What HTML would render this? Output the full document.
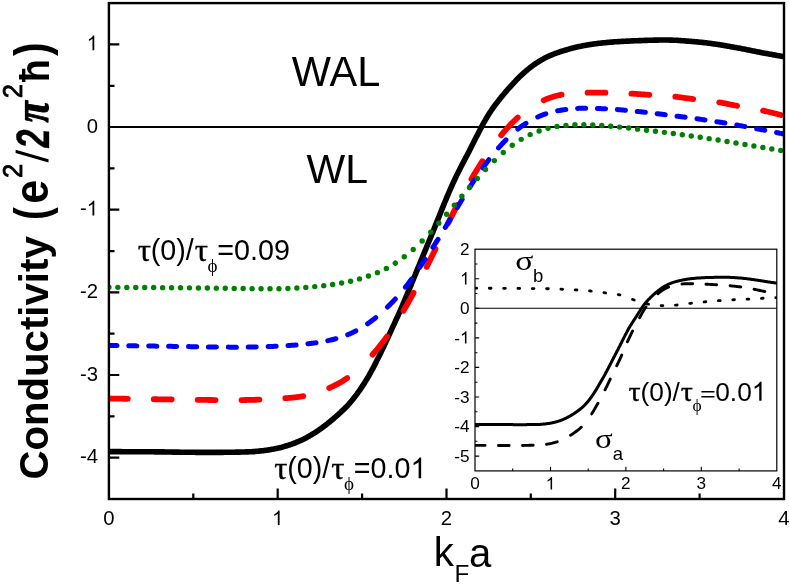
<!DOCTYPE html>
<html><head><meta charset="utf-8"><title>chart</title><style>html,body{margin:0;padding:0;background:#fff}body{width:789px;height:584px;overflow:hidden}</style></head><body>
<svg width="789" height="584" viewBox="0 0 789 584" style="display:block;will-change:transform">
<rect width="789" height="584" fill="#fff"/>
<defs><clipPath id="cm"><rect x="108.9" y="3.1" width="675.1" height="495.9"/></clipPath><clipPath id="ci"><rect x="475.0" y="249.2" width="301.8" height="221.7"/></clipPath></defs>
<line x1="108.9" y1="127.1" x2="784.0" y2="127.1" stroke="#000" stroke-width="2"/>
<g fill="none" clip-path="url(#cm)" stroke-linejoin="round">
<path d="M108.9,451.6 L109.9,451.6 L110.9,451.6 L111.9,451.6 L112.9,451.6 L113.9,451.6 L114.9,451.6 L115.9,451.6 L116.9,451.6 L117.9,451.6 L118.9,451.6 L119.9,451.6 L120.9,451.6 L121.9,451.7 L122.9,451.7 L123.9,451.7 L124.9,451.7 L125.9,451.7 L126.9,451.7 L127.9,451.7 L128.9,451.7 L129.9,451.7 L130.9,451.7 L131.9,451.7 L132.9,451.7 L133.9,451.7 L134.9,451.7 L135.9,451.7 L136.9,451.7 L137.9,451.7 L138.9,451.7 L139.9,451.7 L140.9,451.8 L141.9,451.8 L142.9,451.8 L143.9,451.8 L144.9,451.8 L145.9,451.8 L146.9,451.8 L147.9,451.8 L148.9,451.8 L149.9,451.8 L150.9,451.8 L151.9,451.8 L152.9,451.8 L153.9,451.8 L154.9,451.9 L155.9,451.9 L156.9,451.9 L157.9,451.9 L158.9,451.9 L159.9,451.9 L160.9,451.9 L161.9,451.9 L162.9,451.9 L163.9,451.9 L164.9,452.0 L165.9,452.0 L166.9,452.0 L167.9,452.0 L168.9,452.0 L169.9,452.0 L170.9,452.0 L171.9,452.0 L172.9,452.1 L173.9,452.1 L174.9,452.1 L175.9,452.1 L176.9,452.1 L177.9,452.1 L178.9,452.1 L179.9,452.2 L180.9,452.2 L181.9,452.2 L182.9,452.2 L183.9,452.2 L184.9,452.2 L185.9,452.2 L186.9,452.3 L187.9,452.3 L188.9,452.3 L189.9,452.3 L190.9,452.3 L191.9,452.3 L192.9,452.3 L193.9,452.3 L194.9,452.3 L195.9,452.4 L196.9,452.4 L197.9,452.4 L198.9,452.4 L199.9,452.4 L200.9,452.4 L201.9,452.4 L202.9,452.4 L203.9,452.4 L204.9,452.4 L205.9,452.4 L206.9,452.4 L207.9,452.4 L208.9,452.4 L209.9,452.4 L210.9,452.4 L211.9,452.4 L212.9,452.4 L213.9,452.4 L214.9,452.4 L215.9,452.4 L216.9,452.4 L217.9,452.4 L218.9,452.4 L219.9,452.4 L220.9,452.4 L221.9,452.4 L222.9,452.4 L223.9,452.3 L224.9,452.3 L225.9,452.3 L226.9,452.3 L227.9,452.3 L228.9,452.3 L229.9,452.3 L230.9,452.2 L231.9,452.2 L232.9,452.2 L233.9,452.2 L234.9,452.2 L235.9,452.1 L236.9,452.1 L237.9,452.1 L238.9,452.1 L239.9,452.1 L240.9,452.0 L241.9,452.0 L242.9,452.0 L243.9,452.0 L244.9,452.0 L245.9,451.9 L246.9,451.9 L247.9,451.9 L248.9,451.8 L249.9,451.8 L250.9,451.7 L251.9,451.7 L252.9,451.6 L253.9,451.6 L254.9,451.5 L255.9,451.4 L256.9,451.3 L257.9,451.2 L258.9,451.1 L259.9,451.0 L260.9,450.9 L261.9,450.8 L262.9,450.7 L263.9,450.6 L264.9,450.4 L265.9,450.3 L266.9,450.2 L267.9,450.0 L268.9,449.9 L269.9,449.7 L270.9,449.5 L271.9,449.3 L272.9,449.2 L273.9,449.0 L274.9,448.8 L275.9,448.6 L276.9,448.4 L277.9,448.1 L278.9,447.9 L279.9,447.7 L280.9,447.4 L281.9,447.2 L282.9,446.9 L283.9,446.6 L284.9,446.3 L285.9,446.1 L286.9,445.7 L287.9,445.4 L288.9,445.1 L289.9,444.8 L290.9,444.4 L291.9,444.1 L292.9,443.7 L293.9,443.3 L294.9,443.0 L295.9,442.6 L296.9,442.1 L297.9,441.7 L298.9,441.3 L299.9,440.8 L300.9,440.4 L301.9,439.9 L302.9,439.4 L303.9,438.9 L304.9,438.4 L305.9,437.9 L306.9,437.4 L307.9,436.8 L308.9,436.3 L309.9,435.7 L310.9,435.1 L311.9,434.5 L312.9,433.9 L313.9,433.3 L314.9,432.7 L315.9,432.0 L316.9,431.4 L317.9,430.7 L318.9,430.0 L319.9,429.3 L320.9,428.6 L321.9,427.9 L322.9,427.1 L323.9,426.4 L324.9,425.6 L325.9,424.9 L326.9,424.1 L327.9,423.3 L328.9,422.5 L329.9,421.7 L330.9,420.8 L331.9,420.0 L332.9,419.2 L333.9,418.3 L334.9,417.4 L335.9,416.6 L336.9,415.7 L337.9,414.8 L338.9,413.9 L339.9,413.0 L340.9,412.1 L341.9,411.1 L342.9,410.2 L343.9,409.2 L344.9,408.3 L345.9,407.2 L346.9,406.2 L347.9,405.2 L348.9,404.1 L349.9,402.9 L350.9,401.7 L351.9,400.5 L352.9,399.3 L353.9,398.0 L354.9,396.7 L355.9,395.4 L356.9,394.1 L357.9,392.7 L358.9,391.3 L359.9,389.9 L360.9,388.4 L361.9,386.9 L362.9,385.4 L363.9,383.9 L364.9,382.3 L365.9,380.6 L366.9,379.0 L367.9,377.3 L368.9,375.6 L369.9,373.8 L370.9,372.0 L371.9,370.2 L372.9,368.4 L373.9,366.5 L374.9,364.6 L375.9,362.6 L376.9,360.6 L377.9,358.6 L378.9,356.6 L379.9,354.6 L380.9,352.5 L381.9,350.4 L382.9,348.3 L383.9,346.2 L384.9,344.1 L385.9,341.9 L386.9,339.8 L387.9,337.6 L388.9,335.4 L389.9,333.2 L390.9,331.0 L391.9,328.9 L392.9,326.7 L393.9,324.6 L394.9,322.4 L395.9,320.2 L396.9,318.0 L397.9,315.8 L398.9,313.6 L399.9,311.4 L400.9,309.1 L401.9,306.8 L402.9,304.4 L403.9,302.1 L404.9,299.7 L405.9,297.3 L406.9,295.0 L407.9,292.5 L408.9,290.1 L409.9,287.7 L410.9,285.3 L411.9,282.8 L412.9,280.4 L413.9,277.9 L414.9,275.5 L415.9,273.1 L416.9,270.6 L417.9,268.2 L418.9,265.8 L419.9,263.3 L420.9,260.9 L421.9,258.5 L422.9,256.0 L423.9,253.6 L424.9,251.2 L425.9,248.8 L426.9,246.3 L427.9,243.9 L428.9,241.5 L429.9,239.1 L430.9,236.7 L431.9,234.2 L432.9,231.8 L433.9,229.4 L434.9,226.9 L435.9,224.4 L436.9,221.9 L437.9,219.4 L438.9,216.9 L439.9,214.4 L440.9,211.9 L441.9,209.4 L442.9,206.9 L443.9,204.4 L444.9,202.0 L445.9,199.6 L446.9,197.2 L447.9,194.8 L448.9,192.5 L449.9,190.2 L450.9,187.9 L451.9,185.6 L452.9,183.4 L453.9,181.3 L454.9,179.1 L455.9,177.0 L456.9,174.9 L457.9,172.9 L458.9,170.9 L459.9,168.9 L460.9,167.0 L461.9,165.0 L462.9,163.1 L463.9,161.2 L464.9,159.3 L465.9,157.4 L466.9,155.5 L467.9,153.6 L468.9,151.7 L469.9,149.7 L470.9,147.8 L471.9,145.8 L472.9,143.8 L473.9,141.8 L474.9,139.8 L475.9,137.8 L476.9,135.9 L477.9,133.9 L478.9,131.9 L479.9,130.0 L480.9,128.1 L481.9,126.2 L482.9,124.3 L483.9,122.5 L484.9,120.8 L485.9,119.0 L486.9,117.3 L487.9,115.7 L488.9,114.1 L489.9,112.5 L490.9,111.0 L491.9,109.5 L492.9,108.1 L493.9,106.7 L494.9,105.3 L495.9,104.0 L496.9,102.7 L497.9,101.4 L498.9,100.1 L499.9,98.9 L500.9,97.6 L501.9,96.4 L502.9,95.2 L503.9,94.0 L504.9,92.8 L505.9,91.6 L506.9,90.5 L507.9,89.3 L508.9,88.2 L509.9,87.1 L510.9,86.0 L511.9,84.9 L512.9,83.8 L513.9,82.7 L514.9,81.7 L515.9,80.6 L516.9,79.6 L517.9,78.6 L518.9,77.6 L519.9,76.6 L520.9,75.6 L521.9,74.7 L522.9,73.7 L523.9,72.8 L524.9,71.9 L525.9,71.1 L526.9,70.2 L527.9,69.4 L528.9,68.6 L529.9,67.8 L530.9,67.0 L531.9,66.2 L532.9,65.5 L533.9,64.8 L534.9,64.1 L535.9,63.4 L536.9,62.8 L537.9,62.1 L538.9,61.5 L539.9,60.9 L540.9,60.3 L541.9,59.7 L542.9,59.2 L543.9,58.6 L544.9,58.1 L545.9,57.6 L546.9,57.1 L547.9,56.6 L548.9,56.1 L549.9,55.7 L550.9,55.2 L551.9,54.8 L552.9,54.4 L553.9,54.0 L554.9,53.6 L555.9,53.2 L556.9,52.9 L557.9,52.5 L558.9,52.2 L559.9,51.8 L560.9,51.5 L561.9,51.2 L562.9,50.9 L563.9,50.6 L564.9,50.3 L565.9,50.0 L566.9,49.7 L567.9,49.4 L568.9,49.1 L569.9,48.8 L570.9,48.6 L571.9,48.3 L572.9,48.0 L573.9,47.8 L574.9,47.5 L575.9,47.3 L576.9,47.1 L577.9,46.8 L578.9,46.6 L579.9,46.4 L580.9,46.2 L581.9,46.0 L582.9,45.8 L583.9,45.6 L584.9,45.4 L585.9,45.2 L586.9,45.0 L587.9,44.9 L588.9,44.7 L589.9,44.5 L590.9,44.4 L591.9,44.2 L592.9,44.1 L593.9,44.0 L594.9,43.8 L595.9,43.7 L596.9,43.6 L597.9,43.4 L598.9,43.3 L599.9,43.2 L600.9,43.1 L601.9,43.0 L602.9,42.9 L603.9,42.8 L604.9,42.7 L605.9,42.6 L606.9,42.5 L607.9,42.4 L608.9,42.3 L609.9,42.2 L610.9,42.1 L611.9,42.1 L612.9,42.0 L613.9,41.9 L614.9,41.8 L615.9,41.8 L616.9,41.7 L617.9,41.6 L618.9,41.6 L619.9,41.5 L620.9,41.5 L621.9,41.4 L622.9,41.4 L623.9,41.3 L624.9,41.3 L625.9,41.2 L626.9,41.1 L627.9,41.1 L628.9,41.1 L629.9,41.0 L630.9,41.0 L631.9,40.9 L632.9,40.9 L633.9,40.8 L634.9,40.8 L635.9,40.7 L636.9,40.7 L637.9,40.7 L638.9,40.6 L639.9,40.6 L640.9,40.6 L641.9,40.5 L642.9,40.5 L643.9,40.5 L644.9,40.4 L645.9,40.4 L646.9,40.4 L647.9,40.3 L648.9,40.3 L649.9,40.3 L650.9,40.2 L651.9,40.2 L652.9,40.2 L653.9,40.1 L654.9,40.1 L655.9,40.1 L656.9,40.1 L657.9,40.1 L658.9,40.0 L659.9,40.0 L660.9,40.0 L661.9,40.0 L662.9,40.0 L663.9,40.0 L664.9,40.0 L665.9,40.0 L666.9,40.0 L667.9,40.0 L668.9,40.0 L669.9,40.1 L670.9,40.1 L671.9,40.1 L672.9,40.2 L673.9,40.2 L674.9,40.2 L675.9,40.3 L676.9,40.3 L677.9,40.4 L678.9,40.5 L679.9,40.5 L680.9,40.6 L681.9,40.7 L682.9,40.7 L683.9,40.8 L684.9,40.9 L685.9,41.0 L686.9,41.1 L687.9,41.1 L688.9,41.2 L689.9,41.3 L690.9,41.4 L691.9,41.5 L692.9,41.5 L693.9,41.6 L694.9,41.7 L695.9,41.8 L696.9,41.9 L697.9,42.0 L698.9,42.1 L699.9,42.2 L700.9,42.3 L701.9,42.4 L702.9,42.5 L703.9,42.6 L704.9,42.7 L705.9,42.8 L706.9,42.9 L707.9,43.1 L708.9,43.2 L709.9,43.3 L710.9,43.5 L711.9,43.6 L712.9,43.7 L713.9,43.9 L714.9,44.0 L715.9,44.2 L716.9,44.3 L717.9,44.5 L718.9,44.6 L719.9,44.8 L720.9,45.0 L721.9,45.1 L722.9,45.3 L723.9,45.5 L724.9,45.6 L725.9,45.8 L726.9,46.0 L727.9,46.2 L728.9,46.3 L729.9,46.5 L730.9,46.7 L731.9,46.9 L732.9,47.0 L733.9,47.2 L734.9,47.4 L735.9,47.6 L736.9,47.8 L737.9,48.0 L738.9,48.1 L739.9,48.3 L740.9,48.5 L741.9,48.7 L742.9,48.9 L743.9,49.1 L744.9,49.3 L745.9,49.5 L746.9,49.7 L747.9,49.9 L748.9,50.1 L749.9,50.3 L750.9,50.5 L751.9,50.7 L752.9,50.9 L753.9,51.1 L754.9,51.3 L755.9,51.5 L756.9,51.7 L757.9,51.9 L758.9,52.1 L759.9,52.3 L760.9,52.5 L761.9,52.7 L762.9,52.9 L763.9,53.1 L764.9,53.2 L765.9,53.4 L766.9,53.6 L767.9,53.8 L768.9,54.0 L769.9,54.2 L770.9,54.3 L771.9,54.5 L772.9,54.7 L773.9,54.9 L774.9,55.0 L775.9,55.2 L776.9,55.4 L777.9,55.6 L778.9,55.7 L779.9,55.9 L780.9,56.1 L781.9,56.2 L782.9,56.4 L783.9,56.6 L784.0,56.6" stroke="#000" stroke-width="5.6"/>
<path d="M109.90,398.52 L109.90,398.52 L110.90,398.53 L111.90,398.55 L112.90,398.57 L113.90,398.58 L114.90,398.60 L115.90,398.61 L116.90,398.63 L117.90,398.65 L118.90,398.66 L119.90,398.68 L120.90,398.70 L121.90,398.71 L122.90,398.73 L123.90,398.74 L124.90,398.76 L125.90,398.78 L126.90,398.79 L127.80,398.81 M153.77,399.22 L153.90,399.22 L154.90,399.23 L155.90,399.25 L156.90,399.27 L157.90,399.28 L158.90,399.30 L159.90,399.31 L160.90,399.33 L161.90,399.34 L162.90,399.36 L163.90,399.37 L164.90,399.39 L165.90,399.40 L166.90,399.42 L167.90,399.43 L168.90,399.45 L169.90,399.46 L170.90,399.47 L171.67,399.49 M197.64,399.84 L197.70,399.84 L198.70,399.86 L199.70,399.87 L200.70,399.88 L201.70,399.90 L202.70,399.91 L203.70,399.92 L204.70,399.93 L205.70,399.95 L206.70,399.96 L207.70,399.97 L208.70,399.98 L209.70,399.99 L210.70,400.00 L211.70,400.01 L212.70,400.02 L213.70,400.03 L214.70,400.04 L215.54,400.05 M241.51,400.06 L241.70,400.06 L242.70,400.05 L243.70,400.03 L244.70,400.02 L245.70,400.00 L246.70,399.99 L247.70,399.97 L248.70,399.95 L249.70,399.93 L250.70,399.90 L251.70,399.88 L252.70,399.85 L253.70,399.83 L254.70,399.80 L255.70,399.77 L256.70,399.74 L257.70,399.70 L258.70,399.67 L259.41,399.64 M285.38,398.21 L285.50,398.20 L286.50,398.13 L287.50,398.05 L288.50,397.97 L289.50,397.89 L290.50,397.81 L291.50,397.72 L292.50,397.62 L293.50,397.52 L294.50,397.42 L295.50,397.31 L296.50,397.19 L297.50,397.06 L298.50,396.93 L299.50,396.79 L300.50,396.64 L301.50,396.48 L302.50,396.31 L303.28,396.17 M329.25,387.97 L329.30,387.95 L330.30,387.51 L331.30,387.06 L332.30,386.60 L333.30,386.13 L334.30,385.65 L335.30,385.15 L336.30,384.64 L337.30,384.12 L338.30,383.59 L339.30,383.04 L340.30,382.47 L341.30,381.89 L342.30,381.29 L343.30,380.68 L344.30,380.05 L345.30,379.39 L346.30,378.72 L347.15,378.14 M372.55,354.58 L372.70,354.40 L373.70,353.26 L374.70,352.11 L375.70,350.94 L376.70,349.76 L377.70,348.56 L378.70,347.34 L379.70,346.10 L380.70,344.85 L381.70,343.58 L382.70,342.28 L383.70,340.97 L384.70,339.63 L385.70,338.27 L386.70,336.89 L386.86,336.68 M403.50,310.71 L403.70,310.37 L404.70,308.66 L405.70,306.93 L406.70,305.19 L407.70,303.44 L408.70,301.67 L409.70,299.88 L410.70,298.07 L411.70,296.25 L412.70,294.40 L413.56,292.81 M426.73,266.84 L426.90,266.50 L427.90,264.46 L428.90,262.43 L429.90,260.39 L430.90,258.35 L431.90,256.31 L432.90,254.26 L433.90,252.21 L434.90,250.17 L435.50,248.94 M448.25,222.97 L448.30,222.86 L449.30,220.85 L450.30,218.85 L451.30,216.86 L452.30,214.87 L453.30,212.88 L454.30,210.91 L455.30,208.95 L456.30,206.99 L457.29,205.07 M471.39,179.10 L471.50,178.91 L472.50,177.20 L473.50,175.51 L474.50,173.84 L475.50,172.18 L476.50,170.55 L477.50,168.93 L478.50,167.33 L479.50,165.74 L480.50,164.17 L481.50,162.62 L482.43,161.20 M501.18,135.23 L501.30,135.07 L502.30,133.86 L503.30,132.66 L504.30,131.48 L505.30,130.32 L506.30,129.18 L507.30,128.06 L508.30,126.96 L509.30,125.88 L510.30,124.81 L511.30,123.77 L512.30,122.74 L513.30,121.74 L514.30,120.75 L515.30,119.79 L516.30,118.84 L517.30,117.92 L517.71,117.54 M543.68,100.29 L543.70,100.28 L544.70,99.84 L545.70,99.42 L546.70,99.02 L547.70,98.62 L548.70,98.25 L549.70,97.89 L550.70,97.54 L551.70,97.21 L552.70,96.89 L553.70,96.59 L554.70,96.30 L555.70,96.02 L556.70,95.76 L557.70,95.51 L558.70,95.28 L559.70,95.05 L560.70,94.84 L561.58,94.67 M587.55,92.64 L587.70,92.64 L588.70,92.63 L589.70,92.62 L590.70,92.61 L591.70,92.61 L592.70,92.61 L593.70,92.60 L594.70,92.61 L595.70,92.61 L596.70,92.61 L597.70,92.62 L598.70,92.63 L599.70,92.64 L600.70,92.65 L601.70,92.66 L602.70,92.67 L603.70,92.69 L604.70,92.71 L605.45,92.72 M631.42,93.63 L631.50,93.63 L632.50,93.70 L633.50,93.76 L634.50,93.82 L635.50,93.89 L636.50,93.96 L637.50,94.03 L638.50,94.10 L639.50,94.16 L640.50,94.23 L641.50,94.30 L642.50,94.37 L643.50,94.44 L644.50,94.51 L645.50,94.58 L646.50,94.65 L647.50,94.71 L648.50,94.78 L649.32,94.83 M675.29,96.71 L675.30,96.71 L676.30,96.83 L677.30,96.95 L678.30,97.08 L679.30,97.21 L680.30,97.34 L681.30,97.47 L682.30,97.61 L683.30,97.75 L684.30,97.89 L685.30,98.03 L686.30,98.17 L687.30,98.31 L688.30,98.45 L689.30,98.58 L690.30,98.72 L691.30,98.85 L692.30,98.98 L693.19,99.09 M719.16,102.31 L719.30,102.33 L720.30,102.51 L721.30,102.69 L722.30,102.88 L723.30,103.07 L724.30,103.26 L725.30,103.46 L726.30,103.66 L727.30,103.86 L728.30,104.07 L729.30,104.27 L730.30,104.48 L731.30,104.68 L732.30,104.89 L733.30,105.09 L734.30,105.30 L735.30,105.50 L736.30,105.69 L737.06,105.84 M763.03,110.62 L763.10,110.63 L764.10,110.85 L765.10,111.08 L766.10,111.30 L767.10,111.54 L768.10,111.77 L769.10,112.01 L770.10,112.25 L771.10,112.50 L772.10,112.75 L773.10,113.00 L774.10,113.25 L775.10,113.50 L776.10,113.76 L777.10,114.02 L778.10,114.28 L779.10,114.54 L780.10,114.80 L780.93,115.02" stroke="#f00" stroke-width="5.8" stroke-linecap="round"/>
<path d="M108.90,345.50 L109.10,345.50 L110.10,345.52 L111.10,345.53 L112.10,345.54 L113.10,345.56 L114.10,345.57 L115.10,345.58 L116.10,345.60 L117.00,345.61 M128.80,345.77 L128.90,345.77 L129.90,345.78 L130.90,345.80 L131.90,345.81 L132.90,345.83 L133.90,345.84 L134.90,345.85 L135.90,345.87 L136.90,345.88 M148.70,346.04 L148.70,346.04 L149.70,346.05 L150.70,346.07 L151.70,346.08 L152.70,346.10 L153.70,346.11 L154.70,346.12 L155.70,346.14 L156.70,346.15 L156.80,346.15 M168.60,346.32 L168.70,346.32 L169.70,346.33 L170.70,346.35 L171.70,346.36 L172.70,346.38 L173.70,346.39 L174.70,346.40 L175.70,346.42 L176.70,346.43 M188.50,346.60 L188.50,346.60 L189.50,346.62 L190.50,346.63 L191.50,346.64 L192.50,346.66 L193.50,346.67 L194.50,346.69 L195.50,346.70 L196.50,346.72 L196.60,346.72 M208.40,346.89 L208.50,346.89 L209.50,346.91 L210.50,346.92 L211.50,346.94 L212.50,346.95 L213.50,346.96 L214.50,346.98 L215.50,346.99 L216.50,347.00 M228.30,347.12 L228.30,347.12 L229.30,347.13 L230.30,347.13 L231.30,347.14 L232.30,347.14 L233.30,347.14 L234.30,347.15 L235.30,347.15 L236.30,347.15 L236.40,347.15 M248.20,347.08 L248.30,347.08 L249.30,347.07 L250.30,347.05 L251.30,347.04 L252.30,347.02 L253.30,347.00 L254.30,346.98 L255.30,346.96 L256.30,346.94 M268.10,346.59 L268.10,346.59 L269.10,346.55 L270.10,346.51 L271.10,346.47 L272.10,346.43 L273.10,346.39 L274.10,346.34 L275.10,346.30 L276.10,346.25 L276.20,346.24 M288.00,345.57 L288.10,345.57 L289.10,345.50 L290.10,345.43 L291.10,345.36 L292.10,345.29 L293.10,345.22 L294.10,345.14 L295.10,345.06 L296.10,344.98 M307.90,343.81 L307.90,343.81 L308.90,343.69 L309.90,343.56 L310.90,343.44 L311.90,343.31 L312.90,343.17 L313.90,343.03 L314.90,342.89 L315.90,342.75 L316.00,342.73 M327.80,340.64 L327.90,340.62 L328.90,340.40 L329.90,340.18 L330.90,339.95 L331.90,339.72 L332.90,339.47 L333.90,339.22 L334.90,338.96 L335.90,338.69 M347.70,334.70 L347.70,334.70 L348.70,334.28 L349.70,333.86 L350.70,333.41 L351.70,332.96 L352.70,332.49 L353.70,332.01 L354.70,331.51 L355.70,331.00 L355.80,330.95 M367.60,323.75 L367.70,323.69 L368.70,322.98 L369.70,322.26 L370.70,321.53 L371.70,320.78 L372.70,320.02 L373.70,319.24 L374.70,318.45 L375.70,317.64 M387.50,307.08 L387.50,307.08 L388.50,306.09 L389.50,305.10 L390.50,304.08 L391.50,303.06 L392.50,302.02 L393.50,300.96 L394.50,299.89 L395.32,299.00 M405.38,287.20 L405.50,287.04 L406.50,285.76 L407.50,284.47 L408.50,283.16 L409.50,281.83 L410.50,280.49 L411.50,279.12 L411.52,279.10 M419.76,267.30 L419.90,267.08 L420.90,265.60 L421.90,264.11 L422.90,262.61 L423.90,261.11 L424.90,259.60 L425.17,259.20 M432.87,247.40 L432.90,247.35 L433.90,245.80 L434.90,244.25 L435.90,242.68 L436.90,241.11 L437.90,239.53 L438.05,239.30 M445.28,227.50 L445.30,227.46 L446.30,225.80 L447.30,224.13 L448.30,222.46 L449.30,220.78 L450.13,219.40 M457.18,207.60 L457.30,207.40 L458.30,205.74 L459.30,204.09 L460.30,202.45 L461.30,200.81 L462.10,199.50 M469.44,187.70 L469.50,187.61 L470.50,186.05 L471.50,184.50 L472.50,182.97 L473.50,181.44 L474.50,179.93 L474.72,179.60 M482.86,167.80 L482.90,167.74 L483.90,166.36 L484.90,165.00 L485.90,163.65 L486.90,162.32 L487.90,161.00 L488.90,159.70 L488.90,159.70 M498.54,147.90 L498.70,147.71 L499.70,146.58 L500.70,145.47 L501.70,144.37 L502.70,143.29 L503.70,142.23 L504.70,141.19 L505.70,140.16 L506.05,139.80 M517.85,129.10 L517.90,129.05 L518.90,128.28 L519.90,127.52 L520.90,126.79 L521.90,126.07 L522.90,125.38 L523.90,124.70 L524.90,124.04 L525.90,123.40 L525.95,123.37 M537.75,116.99 L537.90,116.92 L538.90,116.47 L539.90,116.04 L540.90,115.62 L541.90,115.22 L542.90,114.83 L543.90,114.45 L544.90,114.09 L545.85,113.77 M557.65,110.79 L557.70,110.78 L558.70,110.59 L559.70,110.42 L560.70,110.25 L561.70,110.08 L562.70,109.93 L563.70,109.78 L564.70,109.64 L565.70,109.50 L565.75,109.50 M577.55,108.43 L577.70,108.42 L578.70,108.37 L579.70,108.33 L580.70,108.29 L581.70,108.27 L582.70,108.24 L583.70,108.23 L584.70,108.21 L585.65,108.21 M597.45,108.46 L597.50,108.46 L598.50,108.50 L599.50,108.54 L600.50,108.59 L601.50,108.64 L602.50,108.68 L603.50,108.73 L604.50,108.78 L605.50,108.83 L605.55,108.84 M617.35,109.57 L617.50,109.58 L618.50,109.66 L619.50,109.73 L620.50,109.81 L621.50,109.89 L622.50,109.97 L623.50,110.06 L624.50,110.15 L625.45,110.23 M637.25,111.40 L637.30,111.40 L638.30,111.51 L639.30,111.62 L640.30,111.73 L641.30,111.84 L642.30,111.95 L643.30,112.06 L644.30,112.17 L645.30,112.29 L645.35,112.29 M657.15,113.68 L657.30,113.70 L658.30,113.82 L659.30,113.94 L660.30,114.06 L661.30,114.19 L662.30,114.31 L663.30,114.43 L664.30,114.56 L665.25,114.68 M677.05,116.18 L677.10,116.18 L678.10,116.31 L679.10,116.44 L680.10,116.57 L681.10,116.70 L682.10,116.83 L683.10,116.96 L684.10,117.09 L685.10,117.22 L685.15,117.23 M696.95,118.81 L697.10,118.83 L698.10,118.96 L699.10,119.10 L700.10,119.24 L701.10,119.38 L702.10,119.52 L703.10,119.66 L704.10,119.80 L705.05,119.94 M716.85,121.70 L716.90,121.71 L717.90,121.86 L718.90,122.02 L719.90,122.18 L720.90,122.34 L721.90,122.50 L722.90,122.66 L723.90,122.83 L724.90,122.99 L724.95,123.00 M736.75,125.05 L736.90,125.07 L737.90,125.25 L738.90,125.43 L739.90,125.61 L740.90,125.80 L741.90,125.98 L742.90,126.16 L743.90,126.35 L744.85,126.52 M756.65,128.75 L756.70,128.76 L757.70,128.95 L758.70,129.14 L759.70,129.33 L760.70,129.52 L761.70,129.71 L762.70,129.90 L763.70,130.09 L764.70,130.29 L764.75,130.30 M776.55,132.56 L776.70,132.59 L777.70,132.79 L778.70,132.98 L779.70,133.17 L780.70,133.36 L781.70,133.56 L782.70,133.75 L783.70,133.94 L784.00,134.00" stroke="#00f" stroke-width="5.0" stroke-linecap="round"/>
<path d="M108.90,287.30 L108.92,287.30 M117.85,287.35 L117.87,287.35 M126.80,287.40 L126.82,287.40 M135.75,287.45 L135.77,287.45 M144.70,287.51 L144.70,287.51 L144.71,287.51 M153.65,287.56 L153.67,287.56 M162.60,287.63 L162.62,287.63 M171.55,287.70 L171.57,287.70 M180.50,287.77 L180.50,287.77 L180.51,287.77 M189.45,287.86 L189.47,287.86 M198.40,287.95 L198.42,287.95 M207.35,288.06 L207.37,288.06 M216.30,288.17 L216.30,288.17 L216.31,288.17 M225.25,288.29 L225.27,288.29 M234.20,288.41 L234.22,288.41 M243.15,288.53 L243.17,288.53 M252.10,288.65 L252.10,288.65 L252.11,288.65 M261.05,288.74 L261.07,288.74 M270.00,288.78 L270.02,288.78 M278.95,288.69 L278.97,288.69 M287.90,288.45 L287.90,288.45 L287.91,288.45 M296.85,288.02 L296.87,288.02 M305.80,287.40 L305.82,287.40 M314.75,286.61 L314.77,286.61 M323.70,285.64 L323.70,285.64 L323.71,285.64 M332.65,284.46 L332.67,284.46 M341.60,283.04 L341.62,283.04 M350.55,281.25 L350.57,281.25 M359.50,278.91 L359.50,278.91 L359.51,278.91 M368.45,276.05 L368.47,276.05 M377.40,272.63 L377.42,272.63 M386.35,268.41 L386.37,268.41 M395.30,263.15 L395.30,263.15 L395.31,263.14 M404.25,256.81 L404.27,256.81 M413.20,249.43 L413.22,249.43 M422.15,241.07 L422.17,241.07 M430.75,232.12 L430.77,232.12 M438.82,223.17 L438.84,223.17 M446.63,214.22 L446.65,214.22 M454.29,205.27 L454.31,205.27 M461.89,196.32 L461.91,196.32 M469.53,187.37 L469.55,187.37 M477.33,178.42 L477.35,178.42 M485.52,169.47 L485.54,169.47 M494.35,160.62 L494.37,160.62 M503.30,152.50 L503.30,152.50 L503.31,152.50 M512.25,145.32 L512.27,145.32 M521.20,139.35 L521.22,139.35 M530.15,134.58 L530.17,134.58 M539.10,130.93 L539.10,130.93 L539.11,130.93 M548.05,128.33 L548.07,128.33 M557.00,126.55 L557.02,126.55 M565.95,125.40 L565.97,125.40 M574.90,124.80 L574.90,124.80 L574.91,124.80 M583.85,124.68 L583.87,124.68 M592.80,124.94 L592.82,124.94 M601.75,125.49 L601.77,125.49 M610.70,126.24 L610.70,126.24 L610.71,126.24 M619.65,127.10 L619.67,127.10 M628.60,128.07 L628.62,128.07 M637.55,129.16 L637.57,129.16 M646.50,130.26 L646.50,130.26 L646.51,130.26 M655.45,131.30 L655.47,131.30 M664.40,132.35 L664.42,132.35 M673.35,133.51 L673.37,133.51 M682.30,134.75 L682.30,134.75 L682.31,134.75 M691.25,136.01 L691.27,136.01 M700.20,137.30 L700.22,137.30 M709.15,138.64 L709.17,138.64 M718.10,140.04 L718.10,140.04 L718.11,140.04 M727.05,141.51 L727.07,141.51 M736.00,143.02 L736.02,143.02 M744.95,144.52 L744.97,144.52 M753.90,145.99 L753.90,145.99 L753.91,145.99 M762.85,147.43 L762.87,147.43 M771.80,148.94 L771.82,148.94 M780.75,150.55 L780.77,150.55" stroke="#008000" stroke-width="5.4" stroke-linecap="round"/>
</g>
<rect x="108.9" y="3.1" width="675.1" height="495.9" fill="none" stroke="#000" stroke-width="2.4"/>
<path d="M193.3,499.0 v-5.6 M277.7,499.0 v-10.4 M362.1,499.0 v-5.6 M446.5,499.0 v-10.4 M530.8,499.0 v-5.6 M615.2,499.0 v-10.4 M699.6,499.0 v-5.6 M108.9,457.7 h10.4 M108.9,416.4 h5.6 M108.9,375.0 h10.4 M108.9,333.7 h5.6 M108.9,292.4 h10.4 M108.9,251.1 h5.6 M108.9,209.7 h10.4 M108.9,168.4 h5.6 M108.9,85.8 h5.6 M108.9,44.4 h10.4" stroke="#000" stroke-width="2.2" fill="none"/>
<g font-family="Liberation Sans, sans-serif" fill="#000">
<text x="103.25" y="525.10" font-size="20.3">0</text>
<path transform="translate(272.03,525.10) scale(0.00991)" d="M763,0 H583 V-1147 Q518,-1085 412.5,-1023 T223,-930 V-1104 Q373,-1174.5 485.5,-1275 T645,-1470 H763 Z"/>
<text x="440.80" y="525.10" font-size="20.3">2</text>
<text x="609.58" y="525.10" font-size="20.3">3</text>
<text x="778.35" y="525.10" font-size="20.3">4</text>
<text x="79.95" y="463.38" font-size="20.3">-4</text>
<text x="79.95" y="380.73" font-size="20.3">-3</text>
<text x="79.95" y="298.07" font-size="20.3">-2</text>
<text x="79.95" y="215.43" font-size="20.3">-</text><path transform="translate(86.71,215.43) scale(0.00991)" d="M763,0 H583 V-1147 Q518,-1085 412.5,-1023 T223,-930 V-1104 Q373,-1174.5 485.5,-1275 T645,-1470 H763 Z"/>
<text x="86.71" y="132.78" font-size="20.3">0</text>
<path transform="translate(86.71,50.13) scale(0.00991)" d="M763,0 H583 V-1147 Q518,-1085 412.5,-1023 T223,-930 V-1104 Q373,-1174.5 485.5,-1275 T645,-1470 H763 Z"/>
</g>
<line x1="475.0" y1="308.3" x2="776.8" y2="308.3" stroke="#000" stroke-width="1.1"/>
<g fill="none" clip-path="url(#ci)" stroke="#000" stroke-linejoin="round">
<path d="M475.0,424.4 L475.2,424.4 L475.4,424.4 L475.6,424.4 L475.8,424.4 L475.9,424.4 L476.1,424.4 L476.3,424.4 L476.5,424.4 L476.7,424.4 L476.9,424.4 L477.1,424.4 L477.3,424.4 L477.5,424.4 L477.6,424.4 L477.8,424.4 L478.0,424.4 L478.2,424.4 L478.4,424.4 L478.6,424.4 L478.8,424.4 L479.0,424.4 L479.1,424.4 L479.3,424.4 L479.5,424.4 L479.7,424.4 L479.9,424.4 L480.1,424.4 L480.3,424.4 L480.5,424.4 L480.7,424.4 L480.8,424.4 L481.0,424.4 L481.2,424.4 L481.4,424.4 L481.6,424.4 L481.8,424.4 L482.0,424.4 L482.2,424.4 L482.4,424.4 L482.5,424.4 L482.7,424.4 L482.9,424.4 L483.1,424.4 L483.3,424.4 L483.5,424.4 L483.7,424.4 L483.9,424.4 L484.1,424.4 L484.2,424.4 L484.4,424.4 L484.6,424.4 L484.8,424.4 L485.0,424.4 L485.2,424.4 L485.4,424.4 L485.6,424.4 L485.8,424.4 L485.9,424.4 L486.1,424.4 L486.3,424.4 L486.5,424.4 L486.7,424.4 L486.9,424.4 L487.1,424.4 L487.3,424.4 L487.4,424.4 L487.6,424.4 L487.8,424.4 L488.0,424.4 L488.2,424.4 L488.4,424.4 L488.6,424.4 L488.8,424.4 L489.0,424.4 L489.1,424.4 L489.3,424.4 L489.5,424.4 L489.7,424.4 L489.9,424.4 L490.1,424.4 L490.3,424.4 L490.5,424.4 L490.7,424.4 L490.8,424.4 L491.0,424.5 L491.2,424.5 L491.4,424.5 L491.6,424.5 L491.8,424.5 L492.0,424.5 L492.2,424.5 L492.4,424.5 L492.5,424.5 L492.7,424.5 L492.9,424.5 L493.1,424.5 L493.3,424.5 L493.5,424.5 L493.7,424.5 L493.9,424.5 L494.1,424.5 L494.2,424.5 L494.4,424.5 L494.6,424.5 L494.8,424.5 L495.0,424.5 L495.2,424.5 L495.4,424.5 L495.6,424.5 L495.7,424.5 L495.9,424.5 L496.1,424.5 L496.3,424.5 L496.5,424.5 L496.7,424.5 L496.9,424.5 L497.1,424.5 L497.3,424.5 L497.4,424.5 L497.6,424.5 L497.8,424.5 L498.0,424.5 L498.2,424.5 L498.4,424.5 L498.6,424.5 L498.8,424.5 L499.0,424.5 L499.1,424.5 L499.3,424.5 L499.5,424.5 L499.7,424.5 L499.9,424.5 L500.1,424.5 L500.3,424.5 L500.5,424.5 L500.7,424.5 L500.8,424.5 L501.0,424.5 L501.2,424.5 L501.4,424.5 L501.6,424.5 L501.8,424.5 L502.0,424.5 L502.2,424.5 L502.4,424.5 L502.5,424.5 L502.7,424.5 L502.9,424.5 L503.1,424.5 L503.3,424.5 L503.5,424.6 L503.7,424.6 L503.9,424.6 L504.0,424.6 L504.2,424.6 L504.4,424.6 L504.6,424.6 L504.8,424.6 L505.0,424.6 L505.2,424.6 L505.4,424.6 L505.6,424.6 L505.7,424.6 L505.9,424.6 L506.1,424.6 L506.3,424.6 L506.5,424.6 L506.7,424.6 L506.9,424.6 L507.1,424.6 L507.3,424.6 L507.4,424.6 L507.6,424.6 L507.8,424.6 L508.0,424.6 L508.2,424.6 L508.4,424.6 L508.6,424.6 L508.8,424.6 L509.0,424.6 L509.1,424.6 L509.3,424.6 L509.5,424.6 L509.7,424.6 L509.9,424.6 L510.1,424.6 L510.3,424.6 L510.5,424.6 L510.7,424.6 L510.8,424.6 L511.0,424.6 L511.2,424.6 L511.4,424.6 L511.6,424.6 L511.8,424.6 L512.0,424.6 L512.2,424.6 L512.3,424.6 L512.5,424.6 L512.7,424.6 L512.9,424.6 L513.1,424.7 L513.3,424.7 L513.5,424.7 L513.7,424.7 L513.9,424.7 L514.0,424.7 L514.2,424.7 L514.4,424.7 L514.6,424.7 L514.8,424.7 L515.0,424.7 L515.2,424.7 L515.4,424.7 L515.6,424.7 L515.7,424.7 L515.9,424.7 L516.1,424.7 L516.3,424.7 L516.5,424.7 L516.7,424.7 L516.9,424.7 L517.1,424.7 L517.3,424.7 L517.4,424.7 L517.6,424.7 L517.8,424.7 L518.0,424.7 L518.2,424.7 L518.4,424.7 L518.6,424.7 L518.8,424.7 L518.9,424.7 L519.1,424.7 L519.3,424.7 L519.5,424.7 L519.7,424.7 L519.9,424.7 L520.1,424.7 L520.3,424.7 L520.5,424.7 L520.6,424.7 L520.8,424.7 L521.0,424.7 L521.2,424.7 L521.4,424.7 L521.6,424.7 L521.8,424.7 L522.0,424.7 L522.2,424.7 L522.3,424.7 L522.5,424.7 L522.7,424.7 L522.9,424.7 L523.1,424.7 L523.3,424.7 L523.5,424.7 L523.7,424.7 L523.9,424.7 L524.0,424.7 L524.2,424.7 L524.4,424.7 L524.6,424.7 L524.8,424.7 L525.0,424.7 L525.2,424.7 L525.4,424.7 L525.6,424.7 L525.7,424.7 L525.9,424.7 L526.1,424.7 L526.3,424.7 L526.5,424.7 L526.7,424.7 L526.9,424.6 L527.1,424.6 L527.2,424.6 L527.4,424.6 L527.6,424.6 L527.8,424.6 L528.0,424.6 L528.2,424.6 L528.4,424.6 L528.6,424.6 L528.8,424.6 L528.9,424.6 L529.1,424.6 L529.3,424.6 L529.5,424.6 L529.7,424.6 L529.9,424.6 L530.1,424.6 L530.3,424.6 L530.5,424.6 L530.6,424.6 L530.8,424.6 L531.0,424.6 L531.2,424.6 L531.4,424.6 L531.6,424.6 L531.8,424.6 L532.0,424.6 L532.2,424.6 L532.3,424.6 L532.5,424.6 L532.7,424.6 L532.9,424.6 L533.1,424.6 L533.3,424.6 L533.5,424.6 L533.7,424.6 L533.9,424.5 L534.0,424.5 L534.2,424.5 L534.4,424.5 L534.6,424.5 L534.8,424.5 L535.0,424.5 L535.2,424.5 L535.4,424.5 L535.5,424.5 L535.7,424.5 L535.9,424.5 L536.1,424.5 L536.3,424.5 L536.5,424.5 L536.7,424.5 L536.9,424.5 L537.1,424.5 L537.2,424.5 L537.4,424.5 L537.6,424.5 L537.8,424.5 L538.0,424.5 L538.2,424.4 L538.4,424.4 L538.6,424.4 L538.8,424.4 L538.9,424.4 L539.1,424.4 L539.3,424.4 L539.5,424.4 L539.7,424.4 L539.9,424.4 L540.1,424.4 L540.3,424.4 L540.5,424.3 L540.6,424.3 L540.8,424.3 L541.0,424.3 L541.2,424.3 L541.4,424.3 L541.6,424.3 L541.8,424.2 L542.0,424.2 L542.2,424.2 L542.3,424.2 L542.5,424.2 L542.7,424.2 L542.9,424.2 L543.1,424.1 L543.3,424.1 L543.5,424.1 L543.7,424.1 L543.8,424.1 L544.0,424.0 L544.2,424.0 L544.4,424.0 L544.6,424.0 L544.8,424.0 L545.0,423.9 L545.2,423.9 L545.4,423.9 L545.5,423.9 L545.7,423.9 L545.9,423.8 L546.1,423.8 L546.3,423.8 L546.5,423.8 L546.7,423.7 L546.9,423.7 L547.1,423.7 L547.2,423.7 L547.4,423.6 L547.6,423.6 L547.8,423.6 L548.0,423.6 L548.2,423.5 L548.4,423.5 L548.6,423.5 L548.8,423.4 L548.9,423.4 L549.1,423.4 L549.3,423.4 L549.5,423.3 L549.7,423.3 L549.9,423.3 L550.1,423.2 L550.3,423.2 L550.5,423.2 L550.6,423.1 L550.8,423.1 L551.0,423.1 L551.2,423.0 L551.4,423.0 L551.6,423.0 L551.8,422.9 L552.0,422.9 L552.1,422.8 L552.3,422.8 L552.5,422.8 L552.7,422.7 L552.9,422.7 L553.1,422.6 L553.3,422.6 L553.5,422.6 L553.7,422.5 L553.8,422.5 L554.0,422.4 L554.2,422.4 L554.4,422.3 L554.6,422.3 L554.8,422.2 L555.0,422.2 L555.2,422.1 L555.4,422.1 L555.5,422.0 L555.7,422.0 L555.9,421.9 L556.1,421.9 L556.3,421.8 L556.5,421.8 L556.7,421.7 L556.9,421.7 L557.1,421.6 L557.2,421.6 L557.4,421.5 L557.6,421.5 L557.8,421.4 L558.0,421.3 L558.2,421.3 L558.4,421.2 L558.6,421.2 L558.7,421.1 L558.9,421.0 L559.1,421.0 L559.3,420.9 L559.5,420.8 L559.7,420.8 L559.9,420.7 L560.1,420.7 L560.3,420.6 L560.4,420.5 L560.6,420.4 L560.8,420.4 L561.0,420.3 L561.2,420.2 L561.4,420.2 L561.6,420.1 L561.8,420.0 L562.0,419.9 L562.1,419.9 L562.3,419.8 L562.5,419.7 L562.7,419.6 L562.9,419.6 L563.1,419.5 L563.3,419.4 L563.5,419.3 L563.7,419.2 L563.8,419.2 L564.0,419.1 L564.2,419.0 L564.4,418.9 L564.6,418.8 L564.8,418.7 L565.0,418.6 L565.2,418.6 L565.4,418.5 L565.5,418.4 L565.7,418.3 L565.9,418.2 L566.1,418.1 L566.3,418.0 L566.5,417.9 L566.7,417.8 L566.9,417.7 L567.0,417.6 L567.2,417.5 L567.4,417.4 L567.6,417.3 L567.8,417.2 L568.0,417.1 L568.2,417.0 L568.4,416.9 L568.6,416.8 L568.7,416.7 L568.9,416.6 L569.1,416.5 L569.3,416.4 L569.5,416.3 L569.7,416.2 L569.9,416.1 L570.1,416.0 L570.3,415.9 L570.4,415.8 L570.6,415.7 L570.8,415.5 L571.0,415.4 L571.2,415.3 L571.4,415.2 L571.6,415.1 L571.8,415.0 L572.0,414.9 L572.1,414.7 L572.3,414.6 L572.5,414.5 L572.7,414.4 L572.9,414.3 L573.1,414.1 L573.3,414.0 L573.5,413.9 L573.7,413.8 L573.8,413.7 L574.0,413.5 L574.2,413.4 L574.4,413.3 L574.6,413.2 L574.8,413.0 L575.0,412.9 L575.2,412.8 L575.3,412.6 L575.5,412.5 L575.7,412.4 L575.9,412.3 L576.1,412.1 L576.3,412.0 L576.5,411.9 L576.7,411.7 L576.9,411.6 L577.0,411.5 L577.2,411.3 L577.4,411.2 L577.6,411.1 L577.8,410.9 L578.0,410.8 L578.2,410.6 L578.4,410.5 L578.6,410.4 L578.7,410.2 L578.9,410.1 L579.1,409.9 L579.3,409.8 L579.5,409.7 L579.7,409.5 L579.9,409.4 L580.1,409.2 L580.3,409.1 L580.4,408.9 L580.6,408.8 L580.8,408.6 L581.0,408.5 L581.2,408.3 L581.4,408.2 L581.6,408.0 L581.8,407.8 L582.0,407.7 L582.1,407.5 L582.3,407.3 L582.5,407.2 L582.7,407.0 L582.9,406.8 L583.1,406.7 L583.3,406.5 L583.5,406.3 L583.6,406.1 L583.8,405.9 L584.0,405.7 L584.2,405.5 L584.4,405.4 L584.6,405.2 L584.8,405.0 L585.0,404.8 L585.2,404.6 L585.3,404.4 L585.5,404.2 L585.7,404.0 L585.9,403.8 L586.1,403.6 L586.3,403.3 L586.5,403.1 L586.7,402.9 L586.9,402.7 L587.0,402.5 L587.2,402.3 L587.4,402.1 L587.6,401.8 L587.8,401.6 L588.0,401.4 L588.2,401.2 L588.4,400.9 L588.6,400.7 L588.7,400.5 L588.9,400.2 L589.1,400.0 L589.3,399.8 L589.5,399.5 L589.7,399.3 L589.9,399.0 L590.1,398.8 L590.2,398.5 L590.4,398.3 L590.6,398.0 L590.8,397.8 L591.0,397.5 L591.2,397.3 L591.4,397.0 L591.6,396.7 L591.8,396.5 L591.9,396.2 L592.1,395.9 L592.3,395.6 L592.5,395.4 L592.7,395.1 L592.9,394.8 L593.1,394.5 L593.3,394.2 L593.5,394.0 L593.6,393.7 L593.8,393.4 L594.0,393.1 L594.2,392.8 L594.4,392.5 L594.6,392.2 L594.8,391.9 L595.0,391.6 L595.2,391.3 L595.3,391.0 L595.5,390.7 L595.7,390.4 L595.9,390.1 L596.1,389.8 L596.3,389.5 L596.5,389.1 L596.7,388.8 L596.9,388.5 L597.0,388.2 L597.2,387.9 L597.4,387.6 L597.6,387.3 L597.8,386.9 L598.0,386.6 L598.2,386.3 L598.4,386.0 L598.5,385.6 L598.7,385.3 L598.9,385.0 L599.1,384.7 L599.3,384.3 L599.5,384.0 L599.7,383.7 L599.9,383.4 L600.1,383.0 L600.2,382.7 L600.4,382.4 L600.6,382.0 L600.8,381.7 L601.0,381.4 L601.2,381.1 L601.4,380.7 L601.6,380.4 L601.8,380.1 L601.9,379.8 L602.1,379.4 L602.3,379.1 L602.5,378.8 L602.7,378.4 L602.9,378.1 L603.1,377.8 L603.3,377.5 L603.5,377.1 L603.6,376.8 L603.8,376.5 L604.0,376.1 L604.2,375.8 L604.4,375.5 L604.6,375.1 L604.8,374.8 L605.0,374.5 L605.2,374.1 L605.3,373.8 L605.5,373.4 L605.7,373.1 L605.9,372.7 L606.1,372.4 L606.3,372.0 L606.5,371.7 L606.7,371.3 L606.8,371.0 L607.0,370.6 L607.2,370.3 L607.4,369.9 L607.6,369.5 L607.8,369.2 L608.0,368.8 L608.2,368.5 L608.4,368.1 L608.5,367.7 L608.7,367.4 L608.9,367.0 L609.1,366.6 L609.3,366.3 L609.5,365.9 L609.7,365.5 L609.9,365.2 L610.1,364.8 L610.2,364.4 L610.4,364.1 L610.6,363.7 L610.8,363.3 L611.0,363.0 L611.2,362.6 L611.4,362.2 L611.6,361.9 L611.8,361.5 L611.9,361.1 L612.1,360.8 L612.3,360.4 L612.5,360.0 L612.7,359.7 L612.9,359.3 L613.1,358.9 L613.3,358.5 L613.5,358.2 L613.6,357.8 L613.8,357.4 L614.0,357.1 L614.2,356.7 L614.4,356.3 L614.6,356.0 L614.8,355.6 L615.0,355.2 L615.1,354.9 L615.3,354.5 L615.5,354.1 L615.7,353.8 L615.9,353.4 L616.1,353.0 L616.3,352.7 L616.5,352.3 L616.7,352.0 L616.8,351.6 L617.0,351.2 L617.2,350.9 L617.4,350.5 L617.6,350.1 L617.8,349.8 L618.0,349.4 L618.2,349.0 L618.4,348.7 L618.5,348.3 L618.7,347.9 L618.9,347.6 L619.1,347.2 L619.3,346.8 L619.5,346.5 L619.7,346.1 L619.9,345.7 L620.1,345.4 L620.2,345.0 L620.4,344.6 L620.6,344.3 L620.8,343.9 L621.0,343.5 L621.2,343.1 L621.4,342.8 L621.6,342.4 L621.8,342.0 L621.9,341.6 L622.1,341.3 L622.3,340.9 L622.5,340.5 L622.7,340.1 L622.9,339.7 L623.1,339.4 L623.3,339.0 L623.4,338.6 L623.6,338.2 L623.8,337.8 L624.0,337.5 L624.2,337.1 L624.4,336.7 L624.6,336.3 L624.8,336.0 L625.0,335.6 L625.1,335.2 L625.3,334.9 L625.5,334.5 L625.7,334.1 L625.9,333.8 L626.1,333.4 L626.3,333.1 L626.5,332.7 L626.7,332.3 L626.8,332.0 L627.0,331.6 L627.2,331.3 L627.4,330.9 L627.6,330.6 L627.8,330.3 L628.0,329.9 L628.2,329.6 L628.4,329.2 L628.5,328.9 L628.7,328.6 L628.9,328.2 L629.1,327.9 L629.3,327.6 L629.5,327.3 L629.7,326.9 L629.9,326.6 L630.0,326.3 L630.2,326.0 L630.4,325.7 L630.6,325.4 L630.8,325.1 L631.0,324.8 L631.2,324.5 L631.4,324.1 L631.6,323.8 L631.7,323.6 L631.9,323.3 L632.1,323.0 L632.3,322.7 L632.5,322.4 L632.7,322.1 L632.9,321.8 L633.1,321.5 L633.3,321.2 L633.4,320.9 L633.6,320.6 L633.8,320.3 L634.0,320.1 L634.2,319.8 L634.4,319.5 L634.6,319.2 L634.8,318.9 L635.0,318.6 L635.1,318.3 L635.3,318.0 L635.5,317.8 L635.7,317.5 L635.9,317.2 L636.1,316.9 L636.3,316.6 L636.5,316.3 L636.7,316.0 L636.8,315.7 L637.0,315.4 L637.2,315.1 L637.4,314.8 L637.6,314.5 L637.8,314.2 L638.0,313.9 L638.2,313.6 L638.3,313.3 L638.5,313.0 L638.7,312.7 L638.9,312.4 L639.1,312.1 L639.3,311.8 L639.5,311.5 L639.7,311.2 L639.9,310.9 L640.0,310.6 L640.2,310.3 L640.4,310.0 L640.6,309.7 L640.8,309.4 L641.0,309.2 L641.2,308.9 L641.4,308.6 L641.6,308.3 L641.7,308.0 L641.9,307.7 L642.1,307.5 L642.3,307.2 L642.5,306.9 L642.7,306.6 L642.9,306.4 L643.1,306.1 L643.3,305.8 L643.4,305.6 L643.6,305.3 L643.8,305.1 L644.0,304.8 L644.2,304.5 L644.4,304.3 L644.6,304.1 L644.8,303.8 L645.0,303.6 L645.1,303.3 L645.3,303.1 L645.5,302.9 L645.7,302.7 L645.9,302.4 L646.1,302.2 L646.3,302.0 L646.5,301.8 L646.6,301.6 L646.8,301.3 L647.0,301.1 L647.2,300.9 L647.4,300.7 L647.6,300.5 L647.8,300.3 L648.0,300.1 L648.2,299.9 L648.3,299.7 L648.5,299.5 L648.7,299.3 L648.9,299.1 L649.1,298.9 L649.3,298.7 L649.5,298.6 L649.7,298.4 L649.9,298.2 L650.0,298.0 L650.2,297.8 L650.4,297.6 L650.6,297.4 L650.8,297.2 L651.0,297.1 L651.2,296.9 L651.4,296.7 L651.6,296.5 L651.7,296.3 L651.9,296.2 L652.1,296.0 L652.3,295.8 L652.5,295.6 L652.7,295.5 L652.9,295.3 L653.1,295.1 L653.3,294.9 L653.4,294.8 L653.6,294.6 L653.8,294.4 L654.0,294.3 L654.2,294.1 L654.4,293.9 L654.6,293.7 L654.8,293.6 L654.9,293.4 L655.1,293.2 L655.3,293.1 L655.5,292.9 L655.7,292.8 L655.9,292.6 L656.1,292.4 L656.3,292.3 L656.5,292.1 L656.6,292.0 L656.8,291.8 L657.0,291.6 L657.2,291.5 L657.4,291.3 L657.6,291.2 L657.8,291.0 L658.0,290.9 L658.2,290.7 L658.3,290.6 L658.5,290.4 L658.7,290.3 L658.9,290.1 L659.1,290.0 L659.3,289.8 L659.5,289.7 L659.7,289.6 L659.9,289.4 L660.0,289.3 L660.2,289.1 L660.4,289.0 L660.6,288.9 L660.8,288.7 L661.0,288.6 L661.2,288.5 L661.4,288.3 L661.6,288.2 L661.7,288.1 L661.9,287.9 L662.1,287.8 L662.3,287.7 L662.5,287.6 L662.7,287.4 L662.9,287.3 L663.1,287.2 L663.2,287.1 L663.4,287.0 L663.6,286.8 L663.8,286.7 L664.0,286.6 L664.2,286.5 L664.4,286.4 L664.6,286.3 L664.8,286.2 L664.9,286.1 L665.1,286.0 L665.3,285.9 L665.5,285.8 L665.7,285.7 L665.9,285.6 L666.1,285.5 L666.3,285.4 L666.5,285.3 L666.6,285.2 L666.8,285.1 L667.0,285.0 L667.2,284.9 L667.4,284.8 L667.6,284.7 L667.8,284.6 L668.0,284.5 L668.2,284.4 L668.3,284.3 L668.5,284.2 L668.7,284.2 L668.9,284.1 L669.1,284.0 L669.3,283.9 L669.5,283.8 L669.7,283.8 L669.8,283.7 L670.0,283.6 L670.2,283.5 L670.4,283.4 L670.6,283.4 L670.8,283.3 L671.0,283.2 L671.2,283.1 L671.4,283.1 L671.5,283.0 L671.7,282.9 L671.9,282.9 L672.1,282.8 L672.3,282.7 L672.5,282.7 L672.7,282.6 L672.9,282.5 L673.1,282.5 L673.2,282.4 L673.4,282.3 L673.6,282.3 L673.8,282.2 L674.0,282.2 L674.2,282.1 L674.4,282.0 L674.6,282.0 L674.8,281.9 L674.9,281.9 L675.1,281.8 L675.3,281.8 L675.5,281.7 L675.7,281.7 L675.9,281.6 L676.1,281.6 L676.3,281.5 L676.5,281.5 L676.6,281.4 L676.8,281.4 L677.0,281.3 L677.2,281.3 L677.4,281.2 L677.6,281.2 L677.8,281.1 L678.0,281.1 L678.1,281.0 L678.3,281.0 L678.5,280.9 L678.7,280.9 L678.9,280.8 L679.1,280.8 L679.3,280.7 L679.5,280.7 L679.7,280.7 L679.8,280.6 L680.0,280.6 L680.2,280.5 L680.4,280.5 L680.6,280.4 L680.8,280.4 L681.0,280.4 L681.2,280.3 L681.4,280.3 L681.5,280.2 L681.7,280.2 L681.9,280.2 L682.1,280.1 L682.3,280.1 L682.5,280.0 L682.7,280.0 L682.9,280.0 L683.1,279.9 L683.2,279.9 L683.4,279.9 L683.6,279.8 L683.8,279.8 L684.0,279.7 L684.2,279.7 L684.4,279.7 L684.6,279.6 L684.8,279.6 L684.9,279.6 L685.1,279.5 L685.3,279.5 L685.5,279.5 L685.7,279.4 L685.9,279.4 L686.1,279.4 L686.3,279.3 L686.4,279.3 L686.6,279.3 L686.8,279.3 L687.0,279.2 L687.2,279.2 L687.4,279.2 L687.6,279.1 L687.8,279.1 L688.0,279.1 L688.1,279.1 L688.3,279.0 L688.5,279.0 L688.7,279.0 L688.9,278.9 L689.1,278.9 L689.3,278.9 L689.5,278.9 L689.7,278.8 L689.8,278.8 L690.0,278.8 L690.2,278.8 L690.4,278.8 L690.6,278.7 L690.8,278.7 L691.0,278.7 L691.2,278.7 L691.4,278.6 L691.5,278.6 L691.7,278.6 L691.9,278.6 L692.1,278.6 L692.3,278.5 L692.5,278.5 L692.7,278.5 L692.9,278.5 L693.1,278.5 L693.2,278.4 L693.4,278.4 L693.6,278.4 L693.8,278.4 L694.0,278.4 L694.2,278.4 L694.4,278.3 L694.6,278.3 L694.7,278.3 L694.9,278.3 L695.1,278.3 L695.3,278.3 L695.5,278.2 L695.7,278.2 L695.9,278.2 L696.1,278.2 L696.3,278.2 L696.4,278.2 L696.6,278.1 L696.8,278.1 L697.0,278.1 L697.2,278.1 L697.4,278.1 L697.6,278.1 L697.8,278.1 L698.0,278.0 L698.1,278.0 L698.3,278.0 L698.5,278.0 L698.7,278.0 L698.9,278.0 L699.1,278.0 L699.3,278.0 L699.5,277.9 L699.7,277.9 L699.8,277.9 L700.0,277.9 L700.2,277.9 L700.4,277.9 L700.6,277.9 L700.8,277.9 L701.0,277.9 L701.2,277.8 L701.3,277.8 L701.5,277.8 L701.7,277.8 L701.9,277.8 L702.1,277.8 L702.3,277.8 L702.5,277.8 L702.7,277.8 L702.9,277.8 L703.0,277.7 L703.2,277.7 L703.4,277.7 L703.6,277.7 L703.8,277.7 L704.0,277.7 L704.2,277.7 L704.4,277.7 L704.6,277.7 L704.7,277.7 L704.9,277.7 L705.1,277.6 L705.3,277.6 L705.5,277.6 L705.7,277.6 L705.9,277.6 L706.1,277.6 L706.3,277.6 L706.4,277.6 L706.6,277.6 L706.8,277.6 L707.0,277.6 L707.2,277.6 L707.4,277.6 L707.6,277.5 L707.8,277.5 L708.0,277.5 L708.1,277.5 L708.3,277.5 L708.5,277.5 L708.7,277.5 L708.9,277.5 L709.1,277.5 L709.3,277.5 L709.5,277.5 L709.6,277.5 L709.8,277.5 L710.0,277.5 L710.2,277.5 L710.4,277.5 L710.6,277.4 L710.8,277.4 L711.0,277.4 L711.2,277.4 L711.3,277.4 L711.5,277.4 L711.7,277.4 L711.9,277.4 L712.1,277.4 L712.3,277.4 L712.5,277.4 L712.7,277.4 L712.9,277.4 L713.0,277.4 L713.2,277.4 L713.4,277.4 L713.6,277.4 L713.8,277.4 L714.0,277.3 L714.2,277.3 L714.4,277.3 L714.6,277.3 L714.7,277.3 L714.9,277.3 L715.1,277.3 L715.3,277.3 L715.5,277.3 L715.7,277.3 L715.9,277.3 L716.1,277.3 L716.3,277.3 L716.4,277.3 L716.6,277.3 L716.8,277.3 L717.0,277.3 L717.2,277.3 L717.4,277.3 L717.6,277.3 L717.8,277.3 L717.9,277.2 L718.1,277.2 L718.3,277.2 L718.5,277.2 L718.7,277.2 L718.9,277.2 L719.1,277.2 L719.3,277.2 L719.5,277.2 L719.6,277.2 L719.8,277.2 L720.0,277.2 L720.2,277.2 L720.4,277.2 L720.6,277.2 L720.8,277.2 L721.0,277.2 L721.2,277.2 L721.3,277.2 L721.5,277.2 L721.7,277.2 L721.9,277.2 L722.1,277.2 L722.3,277.2 L722.5,277.2 L722.7,277.2 L722.9,277.2 L723.0,277.2 L723.2,277.2 L723.4,277.2 L723.6,277.2 L723.8,277.2 L724.0,277.2 L724.2,277.2 L724.4,277.2 L724.6,277.2 L724.7,277.2 L724.9,277.2 L725.1,277.2 L725.3,277.2 L725.5,277.2 L725.7,277.2 L725.9,277.2 L726.1,277.2 L726.2,277.2 L726.4,277.2 L726.6,277.2 L726.8,277.2 L727.0,277.2 L727.2,277.2 L727.4,277.2 L727.6,277.2 L727.8,277.3 L727.9,277.3 L728.1,277.3 L728.3,277.3 L728.5,277.3 L728.7,277.3 L728.9,277.3 L729.1,277.3 L729.3,277.3 L729.5,277.3 L729.6,277.3 L729.8,277.3 L730.0,277.4 L730.2,277.4 L730.4,277.4 L730.6,277.4 L730.8,277.4 L731.0,277.4 L731.2,277.4 L731.3,277.4 L731.5,277.4 L731.7,277.5 L731.9,277.5 L732.1,277.5 L732.3,277.5 L732.5,277.5 L732.7,277.5 L732.9,277.5 L733.0,277.5 L733.2,277.5 L733.4,277.6 L733.6,277.6 L733.8,277.6 L734.0,277.6 L734.2,277.6 L734.4,277.6 L734.5,277.6 L734.7,277.6 L734.9,277.7 L735.1,277.7 L735.3,277.7 L735.5,277.7 L735.7,277.7 L735.9,277.7 L736.1,277.7 L736.2,277.7 L736.4,277.8 L736.6,277.8 L736.8,277.8 L737.0,277.8 L737.2,277.8 L737.4,277.8 L737.6,277.8 L737.8,277.8 L737.9,277.9 L738.1,277.9 L738.3,277.9 L738.5,277.9 L738.7,277.9 L738.9,277.9 L739.1,277.9 L739.3,278.0 L739.5,278.0 L739.6,278.0 L739.8,278.0 L740.0,278.0 L740.2,278.0 L740.4,278.0 L740.6,278.1 L740.8,278.1 L741.0,278.1 L741.1,278.1 L741.3,278.1 L741.5,278.1 L741.7,278.2 L741.9,278.2 L742.1,278.2 L742.3,278.2 L742.5,278.2 L742.7,278.3 L742.8,278.3 L743.0,278.3 L743.2,278.3 L743.4,278.3 L743.6,278.4 L743.8,278.4 L744.0,278.4 L744.2,278.4 L744.4,278.4 L744.5,278.5 L744.7,278.5 L744.9,278.5 L745.1,278.5 L745.3,278.5 L745.5,278.6 L745.7,278.6 L745.9,278.6 L746.1,278.6 L746.2,278.7 L746.4,278.7 L746.6,278.7 L746.8,278.7 L747.0,278.8 L747.2,278.8 L747.4,278.8 L747.6,278.8 L747.8,278.8 L747.9,278.9 L748.1,278.9 L748.3,278.9 L748.5,278.9 L748.7,279.0 L748.9,279.0 L749.1,279.0 L749.3,279.0 L749.4,279.1 L749.6,279.1 L749.8,279.1 L750.0,279.1 L750.2,279.2 L750.4,279.2 L750.6,279.2 L750.8,279.2 L751.0,279.3 L751.1,279.3 L751.3,279.3 L751.5,279.4 L751.7,279.4 L751.9,279.4 L752.1,279.4 L752.3,279.5 L752.5,279.5 L752.7,279.5 L752.8,279.5 L753.0,279.6 L753.2,279.6 L753.4,279.6 L753.6,279.6 L753.8,279.7 L754.0,279.7 L754.2,279.7 L754.4,279.8 L754.5,279.8 L754.7,279.8 L754.9,279.8 L755.1,279.9 L755.3,279.9 L755.5,279.9 L755.7,279.9 L755.9,280.0 L756.1,280.0 L756.2,280.0 L756.4,280.1 L756.6,280.1 L756.8,280.1 L757.0,280.1 L757.2,280.2 L757.4,280.2 L757.6,280.2 L757.7,280.3 L757.9,280.3 L758.1,280.3 L758.3,280.3 L758.5,280.4 L758.7,280.4 L758.9,280.4 L759.1,280.5 L759.3,280.5 L759.4,280.5 L759.6,280.5 L759.8,280.6 L760.0,280.6 L760.2,280.6 L760.4,280.7 L760.6,280.7 L760.8,280.7 L761.0,280.8 L761.1,280.8 L761.3,280.8 L761.5,280.8 L761.7,280.9 L761.9,280.9 L762.1,280.9 L762.3,281.0 L762.5,281.0 L762.7,281.0 L762.8,281.1 L763.0,281.1 L763.2,281.1 L763.4,281.1 L763.6,281.2 L763.8,281.2 L764.0,281.2 L764.2,281.3 L764.4,281.3 L764.5,281.3 L764.7,281.4 L764.9,281.4 L765.1,281.4 L765.3,281.4 L765.5,281.5 L765.7,281.5 L765.9,281.5 L766.0,281.6 L766.2,281.6 L766.4,281.6 L766.6,281.7 L766.8,281.7 L767.0,281.7 L767.2,281.7 L767.4,281.8 L767.6,281.8 L767.7,281.8 L767.9,281.9 L768.1,281.9 L768.3,281.9 L768.5,282.0 L768.7,282.0 L768.9,282.0 L769.1,282.0 L769.3,282.1 L769.4,282.1 L769.6,282.1 L769.8,282.1 L770.0,282.2 L770.2,282.2 L770.4,282.2 L770.6,282.3 L770.8,282.3 L771.0,282.3 L771.1,282.3 L771.3,282.4 L771.5,282.4 L771.7,282.4 L771.9,282.4 L772.1,282.5 L772.3,282.5 L772.5,282.5 L772.7,282.5 L772.8,282.6 L773.0,282.6 L773.2,282.6 L773.4,282.6 L773.6,282.7 L773.8,282.7 L774.0,282.7 L774.2,282.8 L774.3,282.8 L774.5,282.8 L774.7,282.8 L774.9,282.9 L775.1,282.9 L775.3,282.9 L775.5,282.9 L775.7,283.0 L775.9,283.0 L776.0,283.0 L776.2,283.0 L776.4,283.1 L776.6,283.1 L776.8,283.1" stroke-width="3.0"/>
<path d="M475.00,445.37 L475.19,445.38 L476.13,445.38 L477.07,445.38 L478.02,445.38 L478.96,445.39 L479.90,445.39 L480.85,445.39 L481.79,445.39 L482.73,445.39 L483.68,445.40 L484.62,445.40 L485.10,445.40 M498.45,445.43 L498.58,445.43 L499.52,445.44 L500.46,445.44 L501.41,445.44 L502.35,445.45 L503.29,445.45 L504.24,445.46 L505.18,445.46 L506.12,445.47 L507.07,445.47 L508.01,445.48 L508.95,445.48 L509.15,445.48 M522.50,445.44 L522.53,445.44 L523.48,445.43 L524.42,445.42 L525.36,445.40 L526.31,445.38 L527.25,445.36 L528.19,445.34 L529.14,445.32 L530.08,445.29 L531.02,445.27 L531.96,445.25 L532.91,445.22 L533.20,445.21 M546.55,444.24 L546.68,444.22 L547.62,444.07 L548.56,443.91 L549.51,443.74 L550.45,443.55 L551.39,443.35 L552.34,443.13 L553.28,442.89 L554.22,442.64 L555.17,442.38 L556.11,442.09 L557.05,441.79 L557.25,441.72 M570.60,435.23 L570.63,435.21 L571.58,434.60 L572.52,433.97 L573.46,433.32 L574.41,432.65 L575.35,431.96 L576.29,431.26 L577.23,430.53 L578.18,429.80 L579.12,429.04 L580.06,428.27 L581.01,427.45 L581.30,427.19 M591.72,413.88 L591.76,413.81 L592.70,412.29 L593.65,410.72 L594.59,409.11 L595.53,407.48 L596.47,405.83 L597.42,404.14 L597.95,403.18 M605.02,389.83 L605.15,389.58 L606.09,387.69 L607.04,385.77 L607.98,383.82 L608.92,381.86 L609.87,379.89 L610.23,379.13 M616.71,365.78 L616.85,365.50 L617.79,363.55 L618.73,361.59 L619.68,359.59 L620.62,357.54 L621.56,355.43 L621.71,355.08 M627.46,341.73 L627.60,341.43 L628.54,339.34 L629.48,337.32 L630.43,335.35 L631.37,333.46 L632.31,331.62 L632.62,331.03 M639.65,317.68 L639.67,317.64 L640.61,315.85 L641.56,314.11 L642.50,312.42 L643.44,310.82 L644.39,309.30 L645.33,307.88 L645.96,306.98 M657.90,293.77 L657.97,293.72 L658.91,292.90 L659.85,292.13 L660.80,291.41 L661.74,290.73 L662.68,290.11 L663.62,289.52 L664.57,288.97 L665.51,288.46 L666.45,287.99 L667.40,287.55 L668.34,287.14 L668.60,287.03 M681.95,283.97 L682.11,283.96 L683.05,283.90 L684.00,283.85 L684.94,283.81 L685.88,283.78 L686.83,283.76 L687.77,283.75 L688.71,283.74 L689.66,283.74 L690.60,283.73 L691.54,283.73 L692.48,283.74 L692.65,283.74 M706.00,284.19 L706.07,284.20 L707.01,284.25 L707.95,284.29 L708.89,284.34 L709.84,284.39 L710.78,284.44 L711.72,284.49 L712.67,284.55 L713.61,284.60 L714.55,284.65 L715.50,284.70 L716.44,284.75 L716.70,284.76 M730.05,285.73 L730.21,285.75 L731.15,285.85 L732.10,285.96 L733.04,286.07 L733.98,286.18 L734.93,286.28 L735.87,286.38 L736.81,286.49 L737.75,286.59 L738.70,286.69 L739.64,286.80 L740.58,286.92 L740.75,286.94 M754.10,289.24 L754.16,289.26 L755.11,289.46 L756.05,289.66 L756.99,289.86 L757.94,290.07 L758.88,290.28 L759.82,290.48 L760.77,290.68 L761.71,290.88 L762.65,291.08 L763.60,291.28 L764.54,291.48 L764.80,291.53" stroke-width="2.9" stroke-linecap="round"/>
<path d="M475.00,288.22 L475.19,288.22 L476.13,288.22 L476.70,288.22 M489.32,288.24 L489.34,288.24 L490.28,288.24 L491.02,288.25 M503.64,288.30 L503.67,288.30 L504.61,288.31 L505.34,288.31 M517.96,288.41 L518.01,288.41 L518.95,288.41 L519.66,288.42 M532.28,288.54 L532.34,288.54 L533.29,288.55 L533.98,288.56 M546.60,288.72 L546.68,288.73 L547.62,288.75 L548.30,288.76 M560.92,289.21 L561.01,289.21 L561.96,289.25 L562.62,289.28 M575.24,289.88 L575.35,289.89 L576.29,289.94 L576.94,289.98 M589.56,290.90 L589.68,290.91 L590.63,291.00 L591.26,291.07 M603.88,292.66 L604.02,292.68 L604.96,292.83 L605.58,292.93 M618.20,294.58 L618.36,294.60 L619.30,294.75 L619.90,294.87 M632.52,299.43 L632.69,299.49 L633.63,299.81 L634.22,300.00 M646.84,303.85 L647.03,303.89 L647.97,304.05 L648.54,304.15 M661.16,305.65 L661.17,305.65 L662.12,305.66 L662.86,305.66 M675.48,305.13 L675.51,305.13 L676.45,305.07 L677.18,305.02 M689.80,303.41 L689.84,303.41 L690.79,303.29 L691.50,303.21 M704.12,301.91 L704.18,301.90 L705.12,301.82 L705.82,301.75 M718.44,300.71 L718.51,300.70 L719.46,300.63 L720.14,300.59 M732.76,299.80 L732.85,299.80 L733.79,299.75 L734.46,299.72 M747.08,299.21 L747.19,299.20 L748.13,299.16 L748.78,299.12 M761.40,298.33 L761.52,298.32 L762.46,298.27 L763.10,298.24 M775.72,297.71 L775.86,297.71 L776.80,297.68" stroke-width="2.8" stroke-linecap="round"/>
</g>
<rect x="475.0" y="249.2" width="301.8" height="221.7" fill="none" stroke="#000" stroke-width="1.2"/>
<path d="M512.7,470.9 v-2.4 M550.5,470.9 v-4.2 M588.2,470.9 v-2.4 M625.9,470.9 v-4.2 M663.6,470.9 v-2.4 M701.3,470.9 v-4.2 M739.1,470.9 v-2.4 M475.0,456.1 h4.2 M475.0,441.3 h2.4 M475.0,426.6 h4.2 M475.0,411.8 h2.4 M475.0,397.0 h4.2 M475.0,382.2 h2.4 M475.0,367.4 h4.2 M475.0,352.7 h2.4 M475.0,337.9 h4.2 M475.0,323.1 h2.4 M475.0,308.3 h4.2 M475.0,293.5 h2.4 M475.0,278.8 h4.2 M475.0,264.0 h2.4" stroke="#000" stroke-width="1.1" fill="none"/>
<g font-family="Liberation Sans, sans-serif" fill="#000">
<text x="470.22" y="489.40" font-size="17.2">0</text>
<path transform="translate(545.67,489.40) scale(0.00840)" d="M763,0 H583 V-1147 Q518,-1085 412.5,-1023 T223,-930 V-1104 Q373,-1174.5 485.5,-1275 T645,-1470 H763 Z"/>
<text x="621.12" y="489.40" font-size="17.2">2</text>
<text x="696.57" y="489.40" font-size="17.2">3</text>
<text x="772.02" y="489.40" font-size="17.2">4</text>
<text x="454.31" y="461.82" font-size="17.2">-5</text>
<text x="454.31" y="432.26" font-size="17.2">-4</text>
<text x="454.31" y="402.70" font-size="17.2">-3</text>
<text x="454.31" y="373.14" font-size="17.2">-2</text>
<text x="454.31" y="343.58" font-size="17.2">-</text><path transform="translate(460.03,343.58) scale(0.00840)" d="M763,0 H583 V-1147 Q518,-1085 412.5,-1023 T223,-930 V-1104 Q373,-1174.5 485.5,-1275 T645,-1470 H763 Z"/>
<text x="460.03" y="314.02" font-size="17.2">0</text>
<path transform="translate(460.03,284.46) scale(0.00840)" d="M763,0 H583 V-1147 Q518,-1085 412.5,-1023 T223,-930 V-1104 Q373,-1174.5 485.5,-1275 T645,-1470 H763 Z"/>
<text x="460.03" y="254.90" font-size="17.2">2</text>
</g>
<g fill="#000">
<text transform="translate(291.85,85.70) scale(0.4154,0.4167)" font-family="Liberation Sans, sans-serif" font-size="100">WAL</text>
<text transform="translate(306.50,183.00) scale(0.4101,0.4124)" font-family="Liberation Sans, sans-serif" font-size="100">WL</text>
<g transform="translate(138.3,260.4) scale(1.0)" font-family="Liberation Sans, sans-serif"><text transform="translate(-0.6,0.6) scale(1.08,1)" font-family="Liberation Serif, serif" font-size="30.6" stroke="#000" stroke-width="0.35">τ</text><text x="12.5" font-size="28.7">(0)/</text><text transform="translate(56.4,0.6) scale(1.08,1)" font-family="Liberation Serif, serif" font-size="30.6" stroke="#000" stroke-width="0.35">τ</text><text x="69.3" y="11.4" font-family="Liberation Serif, serif" font-size="19">ϕ</text><text x="79.00" y="0.00" font-size="28.7">=0.09</text></g>
<g transform="translate(274.8,478.2) scale(1.0)" font-family="Liberation Sans, sans-serif"><text transform="translate(-0.6,0.6) scale(1.08,1)" font-family="Liberation Serif, serif" font-size="30.6" stroke="#000" stroke-width="0.35">τ</text><text x="12.5" font-size="28.7">(0)/</text><text transform="translate(56.4,0.6) scale(1.08,1)" font-family="Liberation Serif, serif" font-size="30.6" stroke="#000" stroke-width="0.35">τ</text><text x="69.3" y="11.4" font-family="Liberation Serif, serif" font-size="19">ϕ</text><text x="79.00" y="0.00" font-size="28.7">=0.0</text><path transform="translate(135.66,0.00) scale(0.01401)" d="M763,0 H583 V-1147 Q518,-1085 412.5,-1023 T223,-930 V-1104 Q373,-1174.5 485.5,-1275 T645,-1470 H763 Z"/></g>
<g transform="translate(629.1,400.7) scale(0.915)" font-family="Liberation Sans, sans-serif"><text transform="translate(-0.6,0.6) scale(1.08,1)" font-family="Liberation Serif, serif" font-size="30.6" stroke="#000" stroke-width="0.35">τ</text><text x="12.5" font-size="28.7">(0)/</text><text transform="translate(56.4,0.6) scale(1.08,1)" font-family="Liberation Serif, serif" font-size="30.6" stroke="#000" stroke-width="0.35">τ</text><text x="69.3" y="11.4" font-family="Liberation Serif, serif" font-size="19">ϕ</text><path d="M79,-9.8 h14.3 M79,-4.3 h14.3" stroke="#000" stroke-width="1.45" fill="none"/><text x="94.16" y="0.00" font-size="28.7">0.0</text><path transform="translate(134.06,0.00) scale(0.01401)" d="M763,0 H583 V-1147 Q518,-1085 412.5,-1023 T223,-930 V-1104 Q373,-1174.5 485.5,-1275 T645,-1470 H763 Z"/></g>
<text transform="translate(515.25,269.79) scale(0.3360,0.2635)" font-family="Liberation Serif, serif" font-size="100">σ</text>
<text x="533" y="281.6" font-family="Liberation Sans, sans-serif" font-size="18.5">b</text>
<text transform="translate(594.98,448.19) scale(0.3280,0.2635)" font-family="Liberation Serif, serif" font-size="100">σ</text>
<text x="612.7" y="460.4" font-family="Liberation Sans, sans-serif" font-size="18.5">a</text>
<text x="433.8" y="566.2" font-family="Liberation Sans, sans-serif" font-size="40.2">k</text><text x="454.5" y="581.5" font-family="Liberation Sans, sans-serif" font-size="24.3">F</text><text x="469" y="566.6" font-family="Liberation Sans, sans-serif" font-size="40">a</text>
<g transform="translate(0,478.5) rotate(-90)">
<text x="-1.1" y="48.2" font-family="Liberation Sans, sans-serif" font-weight="bold" font-size="40.2">Conductivity</text>
<text transform="translate(258.38,47.64) scale(0.3874,0.4826)" font-family="Liberation Sans, sans-serif" font-weight="bold" font-size="100">(</text>
<text transform="translate(274.66,47.84) scale(0.4300,0.4889)" font-family="Liberation Sans, sans-serif" font-weight="bold" font-size="100">e</text>
<text transform="translate(300.50,21.50) scale(0.2560,0.2816)" font-family="Liberation Sans, sans-serif" font-size="100" stroke="#000" stroke-width="2.98" stroke-linejoin="round">2</text>
<polygon points="315.9,48.5 319.2,48.5 328.8,15.6 325.5,15.6"/>
<text transform="translate(329.13,48.50) scale(0.3411,0.4679) skewX(-7)" font-family="Liberation Sans, sans-serif" font-weight="bold" font-size="100" stroke="#000" stroke-width="0.74" stroke-linejoin="round">2</text>
<text transform="translate(354.00,47.73) scale(0.3821,0.4914) skewX(-12)" font-family="Liberation Serif, serif" font-weight="bold" font-size="100" stroke="#000" stroke-width="2.29" stroke-linejoin="round">π</text>
<text transform="translate(380.30,21.50) scale(0.2560,0.2816)" font-family="Liberation Sans, sans-serif" font-size="100" stroke="#000" stroke-width="2.98" stroke-linejoin="round">2</text>
<text transform="translate(396.30,48.60) scale(0.3769,0.4044)" font-family="Liberation Sans, sans-serif" font-weight="bold" font-size="100">ħ</text>
<text transform="translate(422.40,47.80) scale(0.4076,0.4847)" font-family="Liberation Sans, sans-serif" font-weight="bold" font-size="100">)</text>
</g>
</g>
</svg>
</body></html>
